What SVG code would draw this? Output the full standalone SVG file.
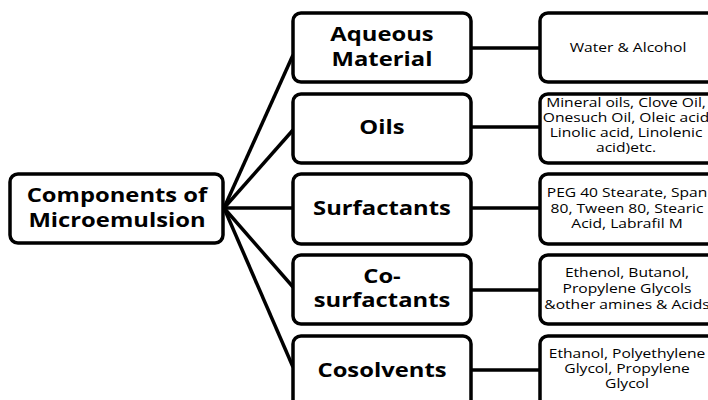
<svg xmlns="http://www.w3.org/2000/svg" width="708" height="400" viewBox="0 0 708 400">
<style>
.box{fill:#fff;stroke:#000;stroke-width:3.5}
.t{font-family:"Open Sans","Liberation Sans",sans-serif;font-weight:bold;font-size:19.5px;text-anchor:middle;fill:#000}
.s{font-family:"Open Sans","Liberation Sans",sans-serif;font-size:13px;text-anchor:middle;fill:#000}
.c{stroke:#000;stroke-width:3.5;fill:none}
</style>
<rect width="708" height="400" fill="#fff"/>
<g id="connectors">
<line class="c" x1="224" y1="208" x2="293" y2="55"/>
<line class="c" x1="224" y1="208" x2="293" y2="130"/>
<line class="c" x1="224" y1="208" x2="293" y2="208"/>
<line class="c" x1="224" y1="208" x2="293" y2="287"/>
<line class="c" x1="224" y1="208" x2="293" y2="367"/>
<line class="c" x1="471" y1="48" x2="540" y2="48"/>
<line class="c" x1="471" y1="127" x2="540" y2="127"/>
<line class="c" x1="471" y1="208" x2="540" y2="208"/>
<line class="c" x1="471" y1="290" x2="540" y2="290"/>
<line class="c" x1="471" y1="370" x2="540" y2="370"/>
</g>
<g id="root">
<rect class="box" x="10" y="174" width="213" height="69" rx="8"/>
<text class="t" transform="translate(117 0) scale(1.22 1)" y="202">Components of</text>
<text class="t" transform="translate(117 0) scale(1.22 1)" y="227">Microemulsion</text>
</g>
<g id="aqueous">
<rect class="box" x="293" y="13" width="178" height="69" rx="8"/>
<text class="t" transform="translate(382 0) scale(1.22 1)" y="41">Aqueous</text>
<text class="t" transform="translate(382 0) scale(1.22 1)" y="66">Material</text>
</g>
<g id="oils">
<rect class="box" x="293" y="94" width="178" height="69" rx="8"/>
<text class="t" transform="translate(382 0) scale(1.22 1)" y="134">Oils</text>
</g>
<g id="surfactants">
<rect class="box" x="293" y="174" width="178" height="70" rx="8"/>
<text class="t" transform="translate(382 0) scale(1.22 1)" y="215">Surfactants</text>
</g>
<g id="cosurfactants">
<rect class="box" x="293" y="255" width="178" height="69" rx="8"/>
<text class="t" transform="translate(382 0) scale(1.22 1)" y="283">Co-</text>
<text class="t" transform="translate(382 0) scale(1.22 1)" y="307">surfactants</text>
</g>
<g id="cosolvents">
<rect class="box" x="293" y="336" width="178" height="72" rx="8"/>
<text class="t" transform="translate(382 0) scale(1.22 1)" y="377">Cosolvents</text>
</g>
<g id="water">
<rect class="box" x="540" y="13" width="180" height="69" rx="8"/>
<text class="s" transform="translate(628 0) scale(1.2 1)" y="52">Water &amp; Alcohol</text>
</g>
<g id="oillist">
<rect class="box" x="540" y="94" width="180" height="69" rx="8"/>
<text class="s" transform="translate(626 0) scale(1.2 1)" y="107">Mineral oils, Clove Oil,</text>
<text class="s" transform="translate(626 0) scale(1.2 1)" y="122">Onesuch Oil, Oleic acid</text>
<text class="s" transform="translate(626 0) scale(1.2 1)" y="137">Linolic acid, Linolenic</text>
<text class="s" transform="translate(626 0) scale(1.2 1)" y="152">acid)etc.</text>
</g>
<g id="surflist">
<rect class="box" x="540" y="174" width="180" height="70" rx="8"/>
<text class="s" transform="translate(627 0) scale(1.2 1)" y="197">PEG 40 Stearate, Span</text>
<text class="s" transform="translate(627 0) scale(1.2 1)" y="213">80, Tween 80, Stearic</text>
<text class="s" transform="translate(627 0) scale(1.2 1)" y="228">Acid, Labrafil M</text>
</g>
<g id="cosurflist">
<rect class="box" x="540" y="255" width="180" height="69" rx="8"/>
<text class="s" transform="translate(627 0) scale(1.2 1)" y="277">Ethenol, Butanol,</text>
<text class="s" transform="translate(627 0) scale(1.2 1)" y="293">Propylene Glycols</text>
<text class="s" transform="translate(627 0) scale(1.2 1)" y="309">&amp;other amines &amp; Acids</text>
</g>
<g id="cosolvlist">
<rect class="box" x="540" y="336" width="180" height="72" rx="8"/>
<text class="s" transform="translate(627 0) scale(1.2 1)" y="358">Ethanol, Polyethylene</text>
<text class="s" transform="translate(627 0) scale(1.2 1)" y="373">Glycol, Propylene</text>
<text class="s" transform="translate(627 0) scale(1.2 1)" y="388">Glycol</text>
</g>
</svg>
